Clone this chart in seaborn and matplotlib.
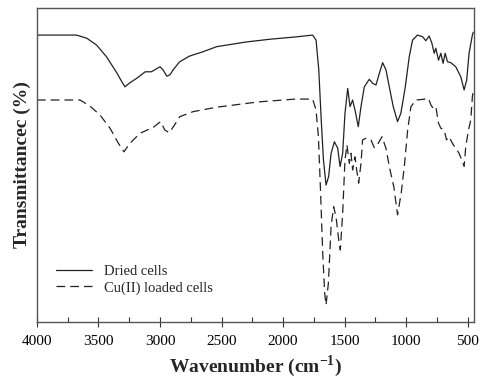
import numpy as np
import pandas as pd
import seaborn as sns
import matplotlib.pyplot as plt
from matplotlib.ticker import MultipleLocator, NullLocator

# --- données (unités arbitraires, %T relatif) ---
wn_dried = [4000, 3680, 3595, 3515, 3435, 3350, 3310, 3285, 3245, 3190, 3120, 3070,
            3000, 2975, 2945, 2920, 2890, 2840, 2760, 2650, 2540, 2300, 2100, 1900,
            1760, 1732, 1710, 1690, 1672, 1651, 1630, 1610, 1583, 1556, 1537, 1516,
            1497, 1475, 1456, 1435, 1413, 1389, 1367, 1340, 1300, 1272, 1245, 1218,
            1191, 1164, 1137, 1105, 1070, 1043, 1007, 975, 948, 908, 867, 840, 813,
            791, 772, 759, 737, 718, 700, 683, 664, 637, 597, 556, 529, 508, 489,
            462, 455]
t_dried = [91.4, 91.4, 90.4, 88.2, 84.5, 79.3, 76.5, 74.9, 76.2, 77.6, 79.7, 79.7,
           81.3, 80.3, 78.3, 78.7, 80.5, 82.9, 84.7, 86.1, 87.7, 89.2, 90.1, 90.8,
           91.4, 89.8, 80.3, 64.3, 51.6, 43.6, 46.3, 53.7, 57.4, 55.3, 49.5, 53.7,
           66.5, 74.4, 68.6, 70.7, 67.0, 62.2, 68.6, 74.9, 77.3, 76.0, 75.5, 79.2,
           82.6, 80.3, 74.9, 68.6, 63.8, 66.5, 74.9, 84.5, 89.8, 91.4, 90.9, 89.6, 91.1,
           88.8, 85.6, 87.2, 83.4, 85.6, 82.4, 85.6, 82.9, 82.6, 81.3, 78.1, 73.9, 77.1,
           85.6, 91.4, 92.3]

wn_cu = [4000, 3650, 3570, 3487, 3406, 3338, 3293, 3244, 3163, 3055, 2996, 2960,
         2925, 2888, 2839, 2731, 2542, 2200, 1900, 1760, 1732, 1713, 1697, 1678,
         1662, 1651, 1632, 1610, 1589, 1570, 1548, 1535, 1516, 1497, 1481, 1462,
         1448, 1435, 1416, 1402, 1386, 1367, 1354, 1327, 1286, 1259, 1232, 1196,
         1164, 1137, 1100, 1070, 1040, 1015, 988, 961, 921, 867, 818, 799, 781,
         759, 737, 718, 691, 672, 651, 624, 597, 570, 543, 529, 516, 494, 475,
         462, 455]
t_cu = [70.7, 70.7, 68.8, 65.9, 61.7, 56.9, 54.2, 56.9, 60.1, 62.0, 63.8, 61.1,
        60.3, 62.4, 65.4, 67.0, 68.4, 70.1, 71.0, 71.0, 67.5, 59.0, 43.1, 21.9,
        9.1, 5.4, 12.3, 30.4, 36.7, 33.5, 26.1, 22.9, 34.6, 51.6, 56.4, 50.5,
        53.7, 48.4, 52.6, 48.4, 44.2, 50.5, 58.0, 58.5, 58.0, 55.5, 56.6, 59.0,
        55.3, 49.5, 43.0, 34.1, 41.1, 49.5, 61.1, 68.6, 70.7, 70.9, 71.2, 69.1, 68.1,
        68.6, 63.3, 61.7, 61.1, 58.0, 59.0, 56.9, 55.3, 53.7, 51.1, 49.5, 55.8, 61.1,
        64.3, 71.8, 73.5]

labels = ['Dried cells', 'Cu(II) loaded cells']

df = pd.concat([
    pd.DataFrame({'wn': wn_dried, 'T': t_dried, 'sample': labels[0]}),
    pd.DataFrame({'wn': wn_cu, 'T': t_cu, 'sample': labels[1]}),
])

# %%
sns.set_style('ticks')
plt.rcParams['font.family'] = ['Liberation Serif', 'DejaVu Serif']

fig = plt.figure(figsize=(4.86, 3.85), dpi=100)
ax = fig.add_axes([0.076, 0.164, 0.899, 0.815])

sns.lineplot(data=df, x='wn', y='T', style='sample', style_order=labels,
             dashes=['', (7, 4)], color='#222222', linewidth=0.9,
             sort=False, estimator=None, ax=ax)

ax.set_xlim(4000, 450)
ax.set_ylim(0, 100)
ax.xaxis.set_major_locator(MultipleLocator(500))
ax.xaxis.set_minor_locator(MultipleLocator(250))
ax.yaxis.set_major_locator(NullLocator())
ax.tick_params(axis='x', which='major', direction='inout', length=7, width=0.8,
               labelsize=11, colors='#333333', labelcolor='black', pad=6)
ax.tick_params(axis='x', which='minor', direction='in', length=3.5, width=0.8,
               colors='#333333')
for s in ax.spines.values():
    s.set_color('#555555')
    s.set_linewidth(1.0)

ax.set_xlabel('Wavenumber (cm$^{\\mathregular{-1}}$)', fontsize=14, fontweight='bold')
ax.set_ylabel('Transmittancec (%)', fontsize=14, fontweight='bold', labelpad=4)

ax.legend(loc='lower left', bbox_to_anchor=(0.013, 0.045), frameon=False,
          fontsize=10.5, handlelength=2.5, handletextpad=0.8, labelspacing=0.2)

plt.savefig('out.png', dpi=100)
